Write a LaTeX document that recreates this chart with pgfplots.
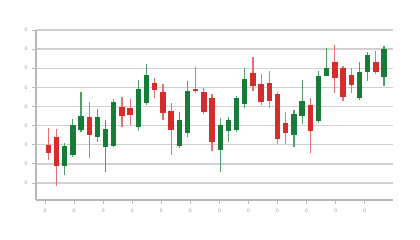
\documentclass[border=0pt]{standalone}
\usepackage{fontspec}
\setmainfont{Liberation Sans}
\usepackage{pgfplots}
\usepackage{pgfplotstable}
\pgfplotsset{compat=1.18}
\definecolor{bull}{RGB}{22,124,56}
\definecolor{bear}{RGB}{214,44,44}
\definecolor{bullw}{RGB}{78,160,100}
\definecolor{bearw}{RGB}{232,112,112}
\definecolor{gridc}{RGB}{208,208,208}
\definecolor{axc}{RGB}{185,185,185}
\definecolor{labc}{RGB}{150,150,150}
\pgfplotstableread{
x o h l c
2 1.89 3.08 1.42 2.93
3 2.46 4.33 2.34 4.03
4 3.77 5.76 3.65 4.50
6 3.42 4.87 3.16 4.47
7 2.87 4.29 1.59 3.81
8 2.95 5.41 2.90 5.22
11 3.91 6.39 3.72 5.90
12 5.17 7.21 5.08 6.63
16 2.93 4.71 2.85 4.29
17 3.60 6.35 3.42 5.81
21 2.73 4.41 1.59 4.03
22 3.73 4.47 3.16 4.29
23 3.77 5.55 3.65 5.46
24 5.13 7.00 4.91 6.45
30 3.49 4.82 2.90 4.59
31 4.50 6.39 4.08 5.29
33 4.26 6.86 4.12 6.59
34 6.61 8.04 6.58 7.03
38 5.43 7.31 5.34 6.79
39 6.82 7.83 6.35 7.69
41 6.54 8.16 6.09 8.01
}\greentab
\pgfplotstableread{
x o h l c
0 2.99 3.89 2.20 2.55
1 3.39 3.82 0.84 1.89
5 4.44 5.25 2.29 3.51
9 4.96 5.48 3.91 4.52
10 4.92 5.38 4.05 4.56
13 6.21 6.47 5.43 5.86
14 5.77 6.15 4.29 4.68
15 4.78 5.17 2.46 3.77
18 5.90 7.08 5.69 5.79
19 5.77 5.95 4.61 4.70
20 5.43 5.64 2.67 3.13
25 6.77 7.57 5.81 6.07
26 6.16 6.68 5.06 5.25
27 6.24 6.86 4.91 5.29
28 5.65 5.77 3.02 3.30
29 4.12 4.73 3.02 3.60
32 5.08 5.46 2.55 3.72
35 7.31 8.22 5.72 6.47
36 7.03 7.12 5.29 5.51
37 6.65 7.03 5.69 6.12
40 7.31 7.90 6.70 6.80
}\redtab
\begin{document}
\begin{tikzpicture}
\begin{axis}[
  scale only axis,
  width=357pt, height=170pt,
  xmin=-1.5, xmax=42.1, ymin=0.11, ymax=9,
  axis lines*=left,
  axis line style={draw=axc, line width=1.1pt},
  ytick={1,2,3,4,5,6,7,8,9},
  xtick={-0.40,3.15,6.70,10.25,13.80,17.35,20.90,24.45,28.00,31.55,35.10,38.65},
  yticklabels={0,0,0,0,0,0,0,0,0},
  xticklabels={0,0,0,0,0,0,0,0,0,0,0,0},
  tick label style={font=\fontsize{5}{6}\selectfont, text=labc},
  tick align=outside,
  major tick length=4pt,
  tick style={draw=axc, line width=0.8pt},
  ymajorgrids,
  major grid style={draw=gridc, line width=1.3pt},
  yticklabel style={xshift=-1pt},
  xticklabel style={yshift=-1pt},
  clip=false,
]
% wicks
\addplot[draw=none, mark=none, forget plot,
  error bars/.cd, y dir=plus, y explicit, error mark=none,
  error bar style={draw=bullw, line width=1.2pt}]
  table[x=x, y=l, y error plus expr=\thisrow{h}-\thisrow{l}] {\greentab};
\addplot[draw=none, mark=none, forget plot,
  error bars/.cd, y dir=plus, y explicit, error mark=none,
  error bar style={draw=bearw, line width=1.2pt}]
  table[x=x, y=l, y error plus expr=\thisrow{h}-\thisrow{l}] {\redtab};
% bodies
\addplot[draw=none, mark=none, forget plot,
  error bars/.cd, y dir=plus, y explicit, error mark=none,
  error bar style={draw=bull, line width=5.4pt}]
  table[x=x, y=o, y error plus expr=\thisrow{c}-\thisrow{o}] {\greentab};
\addplot[draw=none, mark=none, forget plot,
  error bars/.cd, y dir=plus, y explicit, error mark=none,
  error bar style={draw=bear, line width=5.4pt}]
  table[x=x, y=c, y error plus expr=\thisrow{o}-\thisrow{c}] {\redtab};
\end{axis}
\path ([shift={(-36pt,-40pt)}]current axis.south west) rectangle ([shift={(27pt,30pt)}]current axis.north east);
\end{tikzpicture}
\end{document}
